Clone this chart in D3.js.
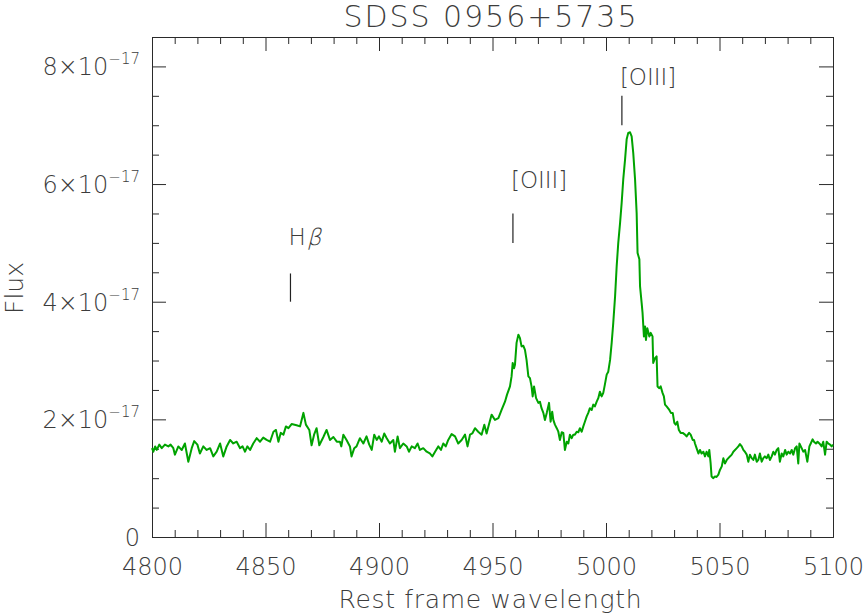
<!DOCTYPE html>
<html><head><meta charset="utf-8">
<script src="https://cdn.jsdelivr.net/npm/d3@7/dist/d3.min.js"></script>
<style>
html,body{margin:0;padding:0;background:#fff;}
text{font-family:"DejaVu Sans",sans-serif;font-weight:200;fill:#3c3c3c;}
</style></head>
<body><svg id="chart" width="863" height="615"></svg>
<script>
// Rest-frame wavelength (Angstrom)
const wavelength = [
4800.0,4800.6,4801.4,4802.1,4803.2,4804.3,4805.7,4807.2,4808.2,4809.4,4810.1,4811.6,4813.1,4814.5,4816.0,4817.5,4818.6,4820.0,4821.1,4822.6,
4824.1,4825.6,4827.0,4828.5,4830.0,4831.4,4832.9,4834.4,4835.8,4837.3,4838.8,4839.9,4841.0,4842.0,4843.2,4844.6,4846.1,4847.6,4849.0,4850.5,
4852.0,4853.5,4854.6,4855.7,4856.7,4857.9,4859.0,4860.1,4861.5,4863.7,4865.2,4866.7,4867.8,4869.3,4870.3,4871.4,4872.5,4873.7,4875.5,4876.9,
4878.4,4879.9,4881.4,4882.8,4883.4,4884.3,4885.7,4887.2,4887.9,4889.1,4890.1,4891.6,4893.1,4894.5,4895.7,4896.8,4897.9,4899.0,4900.0,4901.2,
4902.3,4903.4,4904.8,4906.3,4907.0,4908.2,4909.2,4910.7,4912.2,4913.2,4914.4,4915.8,4917.0,4918.0,4919.5,4921.0,4922.4,4923.5,4924.7,4926.1,
4927.3,4928.3,4929.4,4930.5,4932.0,4933.5,4934.9,4936.4,4937.9,4939.0,4940.1,4941.1,4942.3,4943.7,4945.2,4946.4,4947.4,4948.4,4949.6,4951.1,
4952.6,4954.0,4955.5,4956.4,4957.7,4958.4,4958.9,4959.5,4959.9,4960.6,4961.4,4962.1,4962.8,4963.6,4964.3,4965.0,4965.8,4966.5,4967.2,4967.7,
4968.3,4969.2,4970.2,4970.9,4971.6,4972.4,4973.1,4973.9,4974.9,4975.6,4976.3,4976.8,4977.5,4978.3,4979.0,4979.7,4980.5,4981.2,4981.9,4982.7,
4983.4,4984.1,4984.9,4985.6,4986.3,4987.1,4987.8,4988.5,4989.3,4990.0,4990.7,4991.5,4992.2,4992.9,4993.7,4994.4,4995.1,4995.9,4996.6,4997.3,
4998.1,4998.8,4999.5,5000.3,5001.0,5001.8,5002.5,5003.2,5004.0,5004.7,5005.4,5006.2,5006.9,5007.6,5008.4,5009.1,5009.8,5010.6,5011.3,5012.0,
5012.8,5013.5,5013.9,5014.7,5015.0,5015.7,5016.1,5016.7,5017.2,5017.6,5018.2,5019.1,5019.7,5020.5,5020.8,5021.6,5022.3,5022.7,5023.5,5024.1,
5024.9,5025.5,5026.0,5026.7,5027.9,5028.6,5029.4,5030.1,5030.7,5031.4,5032.1,5032.9,5033.8,5034.8,5035.5,5036.6,5037.3,5038.2,5038.8,5039.2,
5039.9,5040.7,5041.4,5042.1,5042.9,5043.6,5044.3,5045.1,5045.5,5046.1,5046.5,5047.3,5048.0,5048.7,5049.5,5050.2,5051.0,5051.7,5052.4,5053.2,
5053.9,5054.6,5055.4,5056.1,5057.6,5058.3,5059.0,5059.8,5060.5,5061.2,5062.0,5062.7,5063.4,5064.2,5064.9,5065.6,5066.4,5067.1,5067.8,5068.6,
5069.3,5070.0,5070.8,5071.5,5072.2,5073.0,5073.7,5074.4,5075.2,5075.9,5076.6,5077.4,5078.1,5078.9,5079.6,5080.3,5081.1,5081.8,5082.5,5083.3,
5084.0,5084.7,5085.2,5086.2,5086.9,5087.7,5088.7,5089.6,5090.2,5091.0,5091.6,5092.5,5093.2,5094.0,5095.0,5095.7,5096.5,5097.2,5097.9,5098.7,
5099.4,5100.0];
// Flux in units of 1e-17
const flux = [
1.51,1.45,1.54,1.48,1.57,1.51,1.57,1.54,1.57,1.51,1.40,1.54,1.48,1.59,1.28,1.51,1.63,1.57,1.42,1.54,
1.48,1.51,1.37,1.45,1.59,1.37,1.54,1.65,1.59,1.62,1.51,1.54,1.45,1.54,1.48,1.59,1.68,1.62,1.69,1.65,
1.62,1.79,1.82,1.62,1.77,1.74,1.88,1.85,1.92,1.90,1.88,2.11,1.91,1.82,1.56,1.74,1.85,1.56,1.70,1.82,
1.65,1.70,1.62,1.62,1.54,1.74,1.65,1.54,1.37,1.51,1.54,1.68,1.59,1.71,1.57,1.48,1.74,1.65,1.71,1.62,
1.76,1.68,1.59,1.65,1.45,1.71,1.51,1.59,1.54,1.45,1.54,1.51,1.59,1.48,1.51,1.45,1.42,1.37,1.45,1.54,
1.48,1.59,1.54,1.65,1.75,1.71,1.59,1.65,1.74,1.54,1.74,1.76,1.85,1.79,1.74,1.91,1.76,1.91,2.08,1.99,
2.02,2.16,2.30,2.42,2.56,2.73,2.96,2.87,2.93,3.30,3.44,3.38,3.24,3.25,3.18,3.01,2.73,2.70,2.56,2.39,
2.56,2.36,2.28,2.30,2.19,2.11,1.99,2.11,2.28,1.96,2.13,1.99,1.91,1.85,1.79,1.65,1.78,1.77,1.48,1.62,
1.59,1.74,1.68,1.74,1.74,1.79,1.78,1.85,1.79,1.88,1.96,2.05,2.11,2.19,2.16,2.25,2.22,2.30,2.36,2.47,
2.39,2.45,2.59,2.76,2.81,3.01,3.30,3.64,4.09,4.60,5.00,5.34,5.68,6.08,6.42,6.76,6.87,6.88,6.81,6.53,
6.08,5.51,4.83,4.72,4.26,3.98,3.81,3.41,3.58,3.35,3.55,3.41,3.47,3.41,2.96,3.04,3.07,2.56,2.53,2.56,
2.45,2.39,2.25,2.22,2.16,2.11,2.11,1.94,1.91,1.96,1.82,1.77,1.77,1.74,1.71,1.77,1.74,1.65,1.65,1.59,
1.51,1.42,1.48,1.42,1.45,1.37,1.45,1.37,1.48,1.25,1.03,1.00,1.03,1.02,1.06,1.14,1.20,1.34,1.25,1.31,
1.34,1.37,1.40,1.45,1.51,1.54,1.58,1.54,1.48,1.45,1.40,1.28,1.40,1.34,1.31,1.40,1.28,1.31,1.42,1.28,
1.34,1.37,1.34,1.40,1.31,1.37,1.45,1.40,1.48,1.51,1.28,1.42,1.37,1.48,1.40,1.45,1.42,1.48,1.40,1.51,
1.54,1.25,1.59,1.51,1.45,1.48,1.28,1.54,1.59,1.66,1.62,1.59,1.62,1.59,1.54,1.62,1.40,1.62,1.59,1.57,
1.54,1.57];

const xMajorTicks = [4800,4850,4900,4950,5000,5050,5100];
const xMinorTicks = [4810,4820,4830,4840,4860,4870,4880,4890,4910,4920,4930,4940,4960,4970,4980,4990,5010,5020,5030,5040,5060,5070,5080,5090];
const yMajorTicks = [0,2,4,6,8];          // units of 1e-17
const yMinorTicks = [0.5,1,1.5,2.5,3,3.5,4.5,5,5.5,6.5,7,7.5,8.5];

const lineNames = ["H","[OIII]","[OIII]"];
const lineGreek = ["\u03b2","",""];
const lineWave = [4861,4959,5007];
const markerFlux = [4.0,5.0,7.0];   // bottom of marker, 1e-17
const markerLen = [0.48,0.5,0.5];
const labelFlux = [4.97,5.93,7.68];

const titleText = "SDSS 0956+5735";
const xTitle = "Rest frame wavelength";
const yTitle = "Flux";

const svg = d3.select("#chart");
const L = 152, R = 833, T = 37, B = 537;
const x = d3.scaleLinear().domain([4800,5100]).range([L,R]);
const y = d3.scaleLinear().domain([0,8.5]).range([B,T]);
const axisCol = "#2a2a2a";
const MAJ = 14, MIN = 7;

function styleAxis(g){
  g.selectAll("path.domain").attr("stroke",axisCol).attr("stroke-width",1);
  g.selectAll(".tick line").attr("stroke",axisCol).attr("stroke-width",1);
}

// bottom
const gb = svg.append("g").attr("transform",`translate(0,${B})`)
  .call(d3.axisBottom(x).tickValues(xMajorTicks).tickSizeInner(-MAJ).tickSizeOuter(0).tickPadding(21).tickFormat(d3.format("d")));
styleAxis(gb);
gb.selectAll(".tick text").style("font-size","24px").style("font-family","DejaVu Sans").attr("fill","#3c3c3c");
svg.append("g").attr("transform",`translate(0,${B})`)
  .call(d3.axisBottom(x).tickValues(xMinorTicks).tickSizeInner(-MIN).tickSizeOuter(0).tickFormat("")).call(styleAxis);
// top
svg.append("g").attr("transform",`translate(0,${T})`)
  .call(d3.axisTop(x).tickValues(xMajorTicks).tickSizeInner(-MAJ).tickSizeOuter(0).tickFormat("")).call(styleAxis);
svg.append("g").attr("transform",`translate(0,${T})`)
  .call(d3.axisTop(x).tickValues(xMinorTicks).tickSizeInner(-MIN).tickSizeOuter(0).tickFormat("")).call(styleAxis);
// left
const gl = svg.append("g").attr("transform",`translate(${L},0)`)
  .call(d3.axisLeft(y).tickValues(yMajorTicks).tickSizeInner(-MAJ).tickSizeOuter(0).tickPadding(12).tickFormat(""));
styleAxis(gl);
gl.selectAll(".tick text").each(function(d){
  const t = d3.select(this).text(null).attr("dy",null).attr("y",8.5)
    .style("font-size","24px").style("font-family","DejaVu Sans").attr("fill","#3c3c3c");
  if(d===0){ t.text("0"); }
  else {
    t.append("tspan").text(d+"\u00d710");
    t.append("tspan").attr("dy",-11).style("font-size","15px").text("\u221217");
  }
});
svg.append("g").attr("transform",`translate(${L},0)`)
  .call(d3.axisLeft(y).tickValues(yMinorTicks).tickSizeInner(-MIN).tickSizeOuter(0).tickFormat("")).call(styleAxis);
// right
svg.append("g").attr("transform",`translate(${R},0)`)
  .call(d3.axisRight(y).tickValues(yMajorTicks).tickSizeInner(-MAJ).tickSizeOuter(0).tickFormat("")).call(styleAxis);
svg.append("g").attr("transform",`translate(${R},0)`)
  .call(d3.axisRight(y).tickValues(yMinorTicks).tickSizeInner(-MIN).tickSizeOuter(0).tickFormat("")).call(styleAxis);

// spectrum
const pts = wavelength.map((w,i)=>[w,flux[i]]);
svg.append("path").datum(pts)
  .attr("fill","none").attr("stroke","#00a300").attr("stroke-width",2).attr("stroke-linejoin","round")
  .attr("d", d3.line().x(d=>x(d[0])).y(d=>y(d[1])));

// line markers
lineWave.forEach((w,i)=>{
  svg.append("line").attr("x1",x(w)).attr("x2",x(w))
    .attr("y1",y(markerFlux[i])).attr("y2",y(markerFlux[i]+markerLen[i]))
    .attr("stroke","#222").attr("stroke-width",1.2);
  const lx = x(w)-2, ly = y(labelFlux[i]);
  const t = svg.append("text").attr("x",lx).attr("y",ly)
    .style("font-size","23px").text(lineNames[i]);
  if(lineGreek[i]){
    const wdt = t.node().getComputedTextLength();
    svg.append("text").attr("transform",`translate(${lx+wdt+1},${ly}) skewX(-14)`)
      .style("font-size","23px").text(lineGreek[i]);
  }
});

// titles
svg.append("text").attr("x",490).attr("y",27).attr("text-anchor","middle")
  .style("font-size","30px").attr("textLength",293).attr("lengthAdjust","spacing").text(titleText);
svg.append("text").attr("x",490).attr("y",608).attr("text-anchor","middle")
  .style("font-size","25px").attr("textLength",303).attr("lengthAdjust","spacing").text(xTitle);
svg.append("text").attr("transform","translate(23,288) rotate(-90)").attr("text-anchor","middle")
  .style("font-size","25px").text(yTitle);
</script></body></html>
